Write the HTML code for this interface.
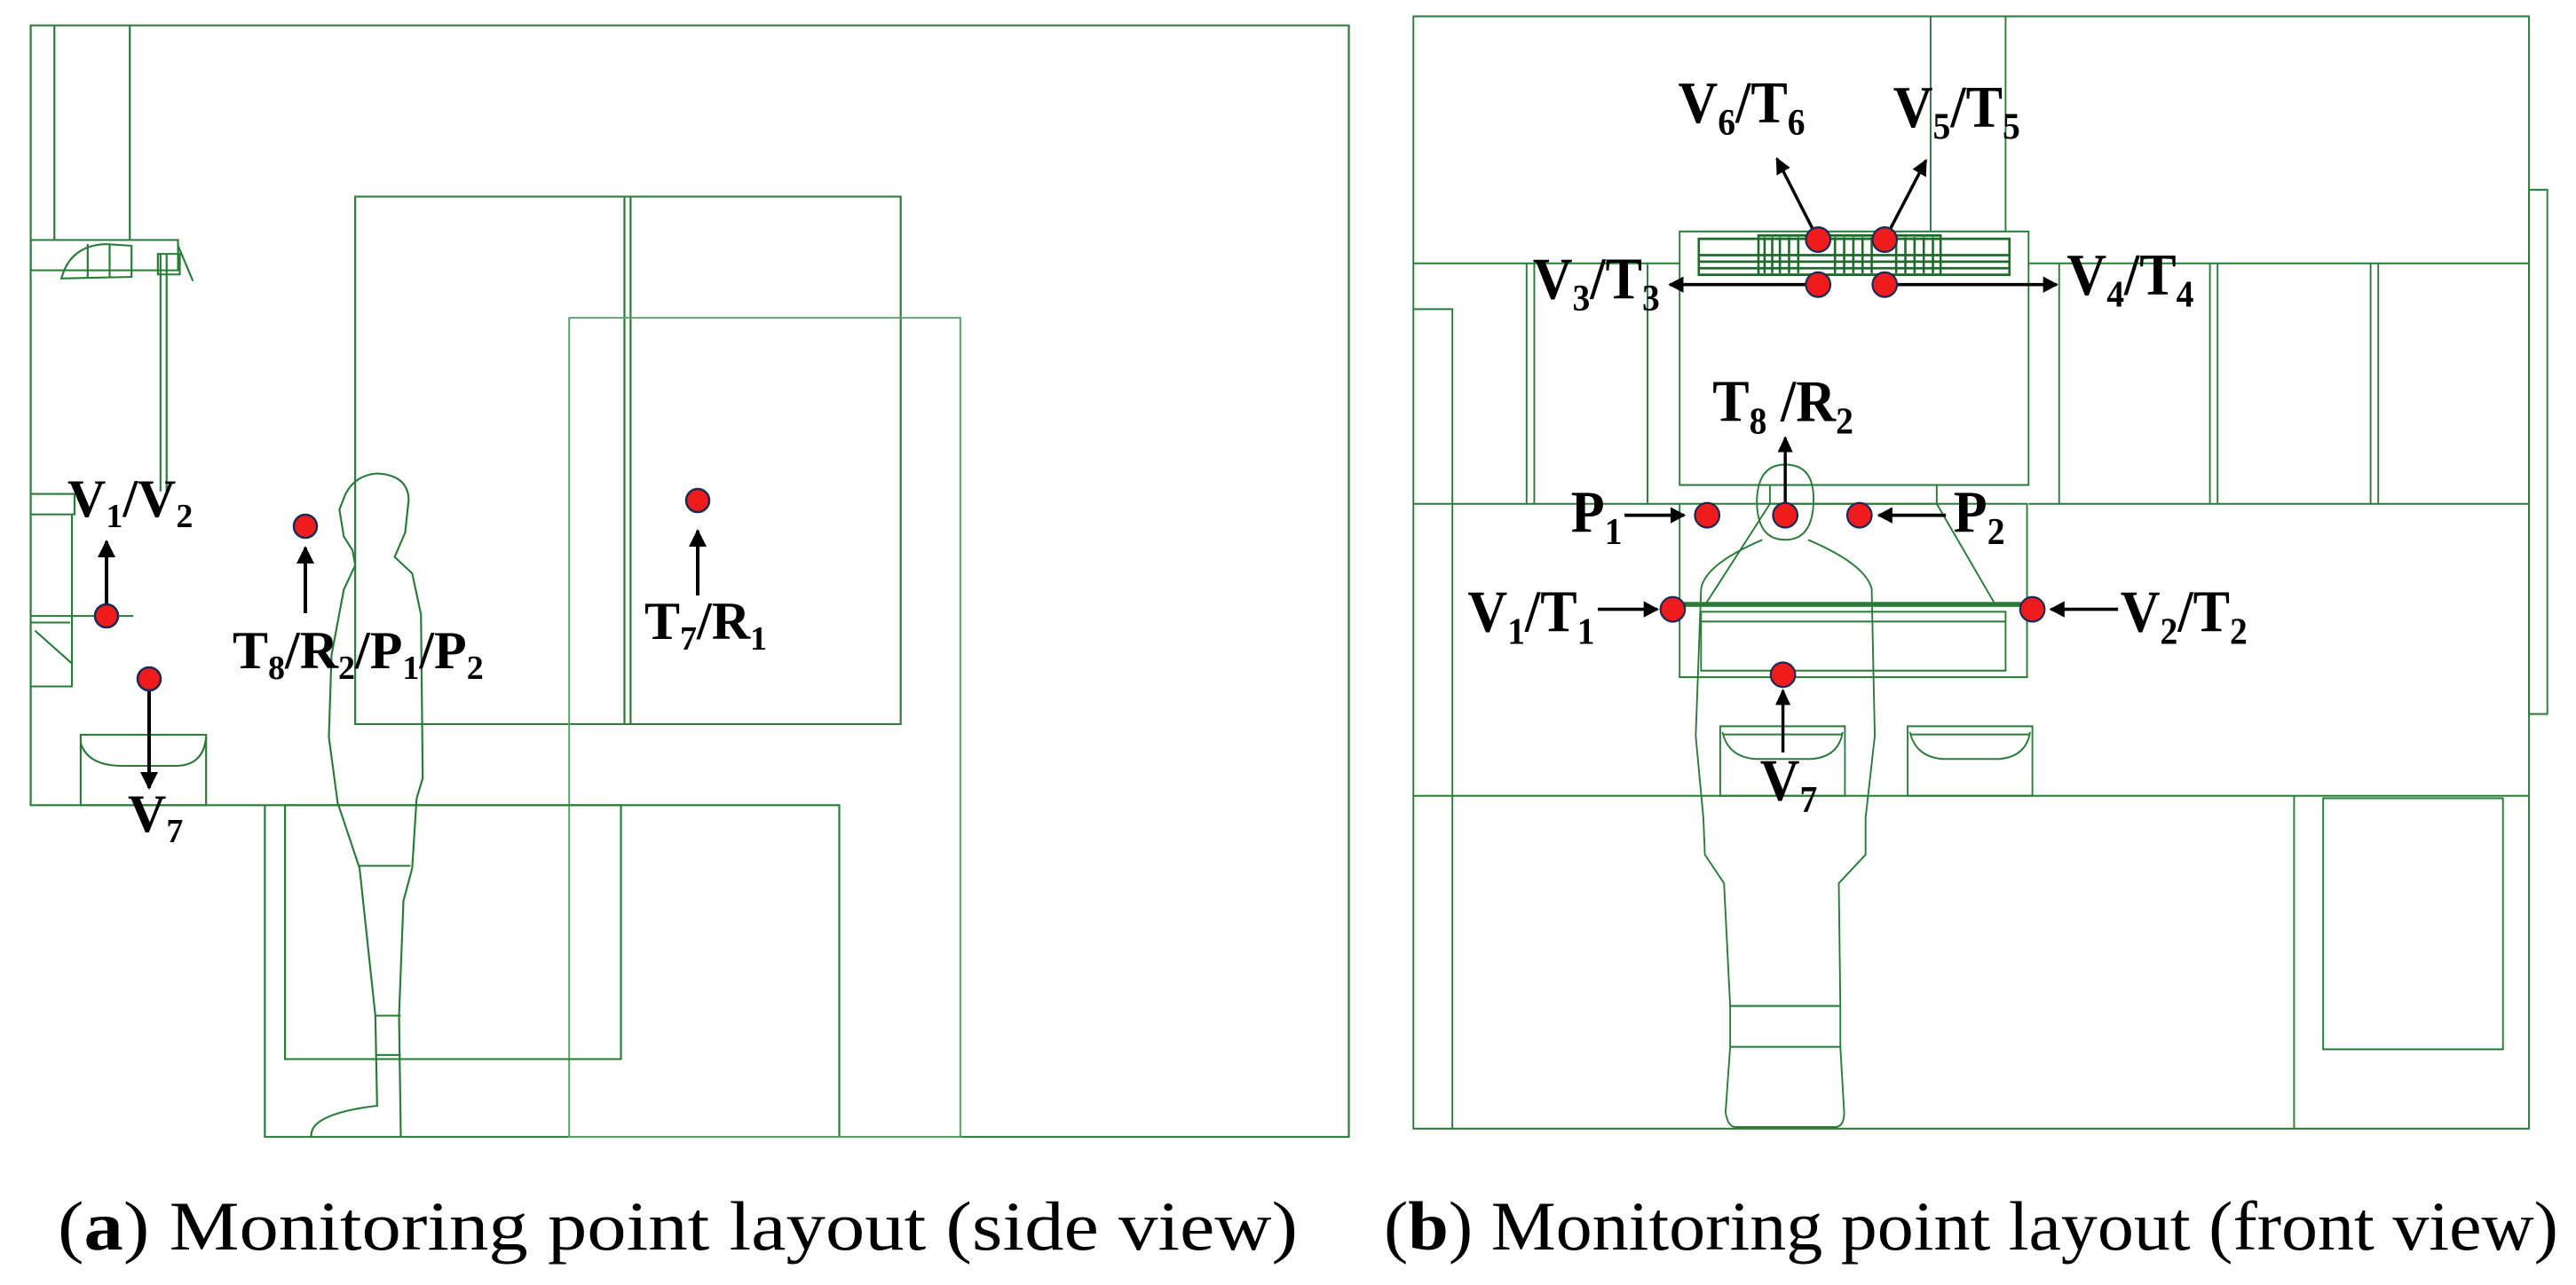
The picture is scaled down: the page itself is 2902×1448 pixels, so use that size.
<!DOCTYPE html>
<html><head><meta charset="utf-8"><style>
html,body{margin:0;padding:0;background:#fff}
svg{display:block}
.l{fill:none;stroke:#2a7a38;stroke-width:2.2}
.lk{fill:none;stroke:#1d6a2a;stroke-width:3}
.lt{fill:none;stroke:#5e9e6a;stroke-width:2}
.lb{font-family:"Liberation Serif",serif;font-weight:bold;fill:#000}
.d{fill:#ee1c1c;stroke:#1a2a55;stroke-width:2.5}
.a{stroke:#000;stroke-width:4;fill:none}
</style></head><body>
<svg width="2902" height="1448" viewBox="0 0 2902 1448" xmlns="http://www.w3.org/2000/svg">
<defs>
<marker id="ar" viewBox="0 0 10 10" refX="9" refY="5" markerWidth="5" markerHeight="5" orient="auto" markerUnits="strokeWidth"><path d="M0,0 L10,5 L0,10 z" fill="#000"/></marker>
</defs>

<!-- LEFT PANEL (zoom1 coords) -->
<g transform="scale(0.988,0.923)">
<path class="l" d="M35,31 H1538 V1388 H302 V983 H35 Z"/>
<path class="l" d="M302,983 H957 V1388"/>
<path class="l" d="M62,31 V293 M148,31 V293"/>
<rect class="l" x="35" y="293" width="168" height="37"/>
<path class="l" d="M70,340 Q80,300 120,298 L150,300 L150,338 Z M100,298 V338 M125,298 V338 M180,310 H205 V335 H180 Z M203,300 L220,343"/>
<path class="l" d="M183,310 V600 M190,310 V600"/>
<path class="l" d="M35,603 H85 V628 H35 M35,628 H82 V838 H35 M35,752 H152 M40,770 L82,810 M35,760 H80"/>
<rect class="l" x="92" y="897" width="143" height="86"/>
<path class="l" d="M92,907 Q100,935 140,935 H200 Q232,935 235,900"/>
<rect class="l" x="405" y="240" width="622" height="644"/>
<path class="l" d="M712,240 V884 M719,240 V884"/>
<rect class="lt" x="649" y="388" width="446" height="1000"/>
<rect class="l" x="325" y="983" width="383" height="310"/>
<path class="l" d="M355,1388 Q352,1360 430,1350 L428,1240 L410,1060 L385,980 L375,900 L378,800 L392,720 L405,690 L402,672 L392,655 L387,622 L394,603 Q405,580 430,578 Q465,580 466,610 L462,650 L450,680 L470,700 L480,750 L482,950 L475,975 L470,1060 L460,1100 L455,1240 L457,1388"/>
<path class="l" d="M408,1057 H468 M428,1240 H457 M428,1288 H457"/>
</g>
<!-- left markers (orig coords) -->
<line class="a" x1="120" y1="680" x2="120" y2="610" marker-end="url(#ar)"/>
<circle class="d" cx="120" cy="694" r="13"/>
<line class="a" x1="168" y1="775" x2="168" y2="888" marker-end="url(#ar)"/>
<circle class="d" cx="168" cy="765" r="13"/>
<line class="a" x1="344" y1="691" x2="344" y2="617" marker-end="url(#ar)"/>
<circle class="d" cx="344" cy="593" r="13"/>
<line class="a" x1="786" y1="671" x2="786" y2="598" marker-end="url(#ar)"/>
<circle class="d" cx="786" cy="564" r="13"/>
<g class="lb" font-size="60">
<text x="76" y="582">V<tspan font-size="38" dy="12">1</tspan><tspan dy="-12">/V</tspan><tspan font-size="38" dy="12">2</tspan></text>
<text x="144" y="937">V<tspan font-size="38" dy="12">7</tspan></text>
<text x="262" y="753">T<tspan font-size="38" dy="12">8</tspan><tspan dy="-12">/R</tspan><tspan font-size="38" dy="12">2</tspan><tspan dy="-12">/P</tspan><tspan font-size="38" dy="12">1</tspan><tspan dy="-12">/P</tspan><tspan font-size="38" dy="12">2</tspan></text>
<text x="726" y="720">T<tspan font-size="38" dy="12">7</tspan><tspan dy="-12">/R</tspan><tspan font-size="38" dy="12">1</tspan></text>
</g>

<!-- RIGHT PANEL (zoom2 coords) -->
<g transform="translate(1550,0) scale(0.862,0.9216)">
<rect class="l" x="49" y="20" width="1458" height="1360"/>
<path class="l" d="M725,20 V283 M823,20 V283"/>
<rect class="l" x="1507" y="232" width="24" height="641"/>
<path class="l" d="M49,322 H397 M853,322 H1507 M49,616 H397 M853,616 H1507"/>
<path class="l" d="M197,322 V616 M207,322 V616 M355,322 V616 M49,378 H100 V1380"/>
<path class="l" d="M893,322 V616 M1090,322 V616 M1100,322 V616 M1300,322 V616 M1310,322 V616"/>
<rect class="l" x="397" y="283" width="456" height="310"/>
<rect class="lk" x="422" y="292" width="406" height="44"/>
<path class="lk" d="M422,312 H828 M422,320 H828 M422,328 H828 M500,288 H738 V336 H500 Z"/>
<path class="lk" d="M508,290 V334 M518,290 V334 M528,290 V334 M540,290 V334 M552,290 V334 M600,290 V334 M612,290 V334 M624,290 V334 M636,290 V334 M648,290 V334 M680,290 V334 M692,290 V334 M704,290 V334 M716,290 V334 M728,290 V334"/>
<rect class="l" x="515" y="593" width="218" height="23"/>
<rect class="l" x="397" y="616" width="454" height="212"/>
<path class="l" d="M515,616 L430,740 M733,616 L810,740"/>
<rect x="397" y="736" width="454" height="6" fill="#2a7a38"/>
<rect class="l" x="425" y="748" width="398" height="72"/>
<path class="l" d="M425,760 H823"/>
<path class="l" d="M49,973 H1507"/>
<rect class="l" x="450" y="888" width="163" height="85"/>
<path class="l" d="M453,895 Q460,925 495,928 H570 Q605,925 610,895 M455,898 H610"/>
<rect class="l" x="695" y="888" width="163" height="85"/>
<path class="l" d="M698,895 Q705,925 740,928 H815 Q850,925 855,895 M698,898 H855"/>
<path class="l" d="M1200,973 V1380"/>
<rect class="l" x="1238" y="976" width="235" height="307"/>
<path class="l" d="M535,660 Q497,660 498,610 Q500,568 535,568 Q572,568 572,610 Q572,660 535,660"/>
<path class="l" d="M505,660 Q430,690 425,720 L418,900 L428,1000 L430,1045 L455,1080 L463,1230 L463,1280 L457,1360 Q460,1378 470,1378 H600 Q612,1378 612,1360 L607,1280 L607,1230 L605,1080 L640,1045 L640,1000 L652,900 L648,720 Q640,690 565,660"/>
<path class="l" d="M463,1230 H607 M463,1280 H607"/>
<g class="lb" font-size="72">
<text x="395" y="150">V<tspan font-size="46" dy="15">6</tspan><tspan dy="-15">/T</tspan><tspan font-size="46" dy="15">6</tspan></text>
<text x="676" y="155">V<tspan font-size="46" dy="15">5</tspan><tspan dy="-15">/T</tspan><tspan font-size="46" dy="15">5</tspan></text>
<text x="205" y="365">V<tspan font-size="46" dy="15">3</tspan><tspan dy="-15">/T</tspan><tspan font-size="46" dy="15">3</tspan></text>
<text x="903" y="360">V<tspan font-size="46" dy="15">4</tspan><tspan dy="-15">/T</tspan><tspan font-size="46" dy="15">4</tspan></text>
<text x="440" y="515">T<tspan font-size="46" dy="15">8</tspan><tspan dy="-15"> /R</tspan><tspan font-size="46" dy="15">2</tspan></text>
<text x="255" y="650">P<tspan font-size="46" dy="15">1</tspan></text>
<text x="755" y="650">P<tspan font-size="46" dy="15">2</tspan></text>
<text x="120" y="772">V<tspan font-size="46" dy="15">1</tspan><tspan dy="-15">/T</tspan><tspan font-size="46" dy="15">1</tspan></text>
<text x="973" y="772">V<tspan font-size="46" dy="15">2</tspan><tspan dy="-15">/T</tspan><tspan font-size="46" dy="15">2</tspan></text>
<text x="502" y="978">V<tspan font-size="46" dy="15">7</tspan></text>
</g>
<line class="a" x1="578" y1="293" x2="524" y2="194" marker-end="url(#ar)"/>
<line class="a" x1="665" y1="293" x2="719" y2="196" marker-end="url(#ar)"/>
<line class="a" x1="578" y1="348" x2="384" y2="348" marker-end="url(#ar)"/>
<line class="a" x1="665" y1="348" x2="890" y2="348" marker-end="url(#ar)"/>
<line class="a" x1="535" y1="630" x2="535" y2="535" marker-end="url(#ar)"/>
<line class="a" x1="325" y1="630" x2="403" y2="630" marker-end="url(#ar)"/>
<line class="a" x1="745" y1="630" x2="657" y2="630" marker-end="url(#ar)"/>
<line class="a" x1="290" y1="745" x2="368" y2="745" marker-end="url(#ar)"/>
<line class="a" x1="970" y1="745" x2="882" y2="745" marker-end="url(#ar)"/>
<line class="a" x1="532" y1="920" x2="532" y2="844" marker-end="url(#ar)"/>
<g>
<ellipse class="d" cx="578" cy="293" rx="16" ry="15"/>
<ellipse class="d" cx="665" cy="293" rx="16" ry="15"/>
<ellipse class="d" cx="578" cy="348" rx="16" ry="15"/>
<ellipse class="d" cx="665" cy="348" rx="16" ry="15"/>
<ellipse class="d" cx="535" cy="630" rx="16" ry="15"/>
<ellipse class="d" cx="433" cy="630" rx="16" ry="15"/>
<ellipse class="d" cx="632" cy="630" rx="16" ry="15"/>
<ellipse class="d" cx="388" cy="745" rx="16" ry="15"/>
<ellipse class="d" cx="858" cy="745" rx="16" ry="15"/>
<ellipse class="d" cx="532" cy="825" rx="16" ry="15"/>
</g>
</g>

<!-- captions -->
<text x="65" y="1408" font-family="'Liberation Serif',serif" font-size="78" textLength="1397" lengthAdjust="spacingAndGlyphs">(<tspan font-weight="bold">a</tspan>) Monitoring point layout (side view)</text>
<text x="1559" y="1408" font-family="'Liberation Serif',serif" font-size="78" textLength="1323" lengthAdjust="spacingAndGlyphs">(<tspan font-weight="bold">b</tspan>) Monitoring point layout (front view)</text>
</svg>
</body></html>
